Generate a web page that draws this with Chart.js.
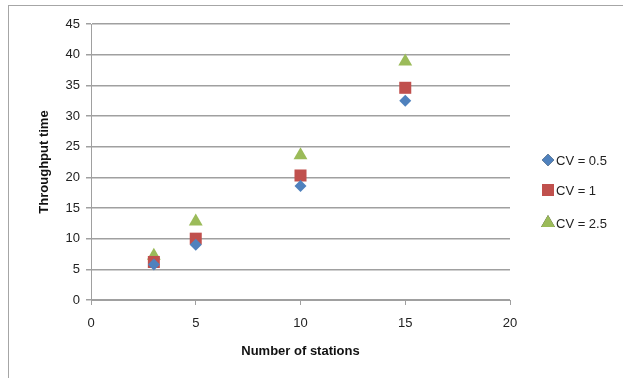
<html>
<head>
<title>Throughput time</title>
<script src="https://cdn.jsdelivr.net/npm/chart.js@4/dist/chart.umd.min.js"></script>
<style type="text/css">
  body { margin: 0; background: #fff; }
  #wrap { position: relative; width: 623px; height: 378px; }
  #frame {
    position: absolute; left: 8px; top: 5px; width: 640px; height: 400px;
    border-left: 1px solid #a6a6a6; border-top: 1px solid #a6a6a6;
  }
  canvas { position: absolute; left: 0; top: 0; }
</style>
</head>
<body>
<div id="wrap">
  <div id="frame"></div>
  <canvas id="scatter" width="623" height="378"></canvas>
</div>

<script>
// data
var stations = [3, 5, 10, 15];
var cv05 = [5.8, 9.0, 18.6, 32.5];
var cv1 = [6.2, 10.0, 20.3, 34.6];
var cv25 = [7.2, 12.8, 23.6, 38.9];
var seriesNames = ['CV = 0.5', 'CV = 1', 'CV = 2.5'];
var yTicks = [0, 5, 10, 15, 20, 25, 30, 35, 40, 45];
var xTicks = [0, 5, 10, 15, 20];

function pts(ys) {
  return stations.map(function (x, i) { return { x: x, y: ys[i] }; });
}

var font = "'Liberation Sans', Arial, sans-serif";

// legend drawn on the right, like the spreadsheet one
var sideLegend = {
  id: 'sideLegend',
  afterDraw: function (chart) {
    var ctx = chart.ctx;
    var rows = [160, 190, 223];
    chart.data.datasets.forEach(function (ds, i) {
      Chart.helpers.drawPoint(ctx, {
        pointStyle: ds.pointStyle, radius: ds.pointRadius, rotation: 0, borderWidth: 0
      }, 548, rows[i]);
      ctx.fillStyle = ds.backgroundColor;
      ctx.fill();
      ctx.fillStyle = '#222';
      ctx.font = '13px ' + font;
      ctx.textBaseline = 'middle';
      ctx.textAlign = 'left';
      ctx.fillText(ds.label, 556, rows[i] + 1);
    });
  }
};

var ctx = document.getElementById('scatter').getContext('2d');
var myChart = new Chart(ctx, {
  type: 'scatter',
  data: {
    datasets: [{
      label: seriesNames[0],
      data: pts(cv05),
      pointStyle: 'rectRot',
      pointRadius: 6,
      backgroundColor: '#4F81BD',
      borderWidth: 0
    }, {
      label: seriesNames[1],
      data: pts(cv1),
      pointStyle: 'rect',
      pointRadius: 8.5,
      backgroundColor: '#C0504D',
      borderWidth: 0
    }, {
      label: seriesNames[2],
      data: pts(cv25),
      pointStyle: 'triangle',
      pointRadius: 8,
      backgroundColor: '#9BBB59',
      borderWidth: 0
    }]
  },
  plugins: [sideLegend],
  options: {
    responsive: false,
    animation: false,
    layout: { padding: { left: 30, top: 24, right: 113, bottom: 14 } },
    plugins: { legend: { display: false }, tooltip: { enabled: false } },
    scales: {
      x: {
        type: 'linear', min: 0, max: 20,
        afterBuildTicks: function (s) { s.ticks = xTicks.map(function (v) { return { value: v }; }); },
        afterFit: function (s) { s.height = 64; },
        grid: { drawOnChartArea: false, tickLength: 5, color: '#a0a0a0', lineWidth: 1 },
        border: { color: '#a0a0a0', width: 1 },
        ticks: { color: '#222', font: { family: font, size: 13 }, padding: 11, maxRotation: 0 },
        title: { display: true, text: 'Number of stations', color: '#111',
                 font: { family: font, size: 13, weight: 'bold' }, padding: { top: 4, bottom: 5 } }
      },
      y: {
        type: 'linear', min: 0, max: 45,
        afterBuildTicks: function (s) { s.ticks = yTicks.map(function (v) { return { value: v }; }); },
        afterFit: function (s) { s.width = 61; },
        grid: { tickLength: 5, color: '#a0a0a0', lineWidth: 1.5 },
        border: { color: '#a0a0a0', width: 1 },
        ticks: { color: '#222', font: { family: font, size: 13 }, padding: 6 },
        title: { display: true, text: 'Throughput time', color: '#111',
                 font: { family: font, size: 13, weight: 'bold' }, padding: { top: 7, bottom: 4 } }
      }
    }
  }
});
</script>
</body>
</html>
